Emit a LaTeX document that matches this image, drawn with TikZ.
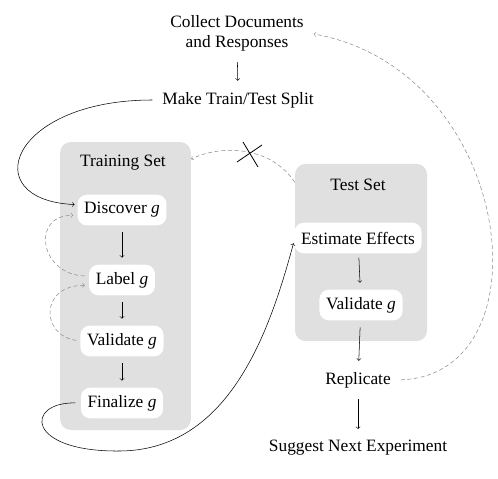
\documentclass[tikz,border=0pt]{standalone}
\usepackage{fontspec}
\setmainfont{Liberation Serif}
\usetikzlibrary{positioning}
\usetikzlibrary{arrows}
\tikzset{x=0.75pt, y=-0.75pt,
panel/.style={ % grey set boxes
fill=black!12, rounded corners=8pt, inner sep=0pt},
stepbox/.style={ % white step boxes
fill=white, rounded corners=7pt, inner xsep=5pt, minimum height=23pt},
flow/.style={ % main flow
draw, ->, thin, shorten <=5pt, shorten >=5pt},
loop/.style={ % feedback loops
draw, ->, densely dashed, black!45, thin}}

\begin{document}
\begin{tikzpicture}[font=\fontsize{13}{15}\selectfont]
	\useasboundingbox (0,0) rectangle (498,478);
	\node[panel, minimum width=98pt, minimum height=216pt] (train) at (125.5,286) {};
	\node[panel, minimum width=99pt, minimum height=133pt] (test) at (361,252.5) {};
	\node[align=center] (collect) at (237,33) {Collect Documents\\and Responses};
	\node (split) at (238,100) {Make Train/Test Split};
	\node (traintitle) at (123,163) {Training Set};
	\node[stepbox] (discover) at (122,210) {Discover \textit{g}};
	\node[stepbox] (label) at (122,280) {Label \textit{g}};
	\node[stepbox] (trainval) at (122,341) {Validate \textit{g}};
	\node[stepbox] (finalize) at (122,403) {Finalize \textit{g}};
	\node (testtitle) at (358,185) {Test Set};
	\node[stepbox] (estimate) at (358,238) {Estimate Effects};
	\node[stepbox] (testval) at (361,305) {Validate \textit{g}};
	\node (replicate) at (358,380) {Replicate};
	\node (suggest) at (358,448) {Suggest Next Experiment};
	\coordinate (cut) at (249,155);
	\draw[flow] (collect) -- (split);
	\draw[flow] (discover) -- (label);
	\draw[flow] (label) -- (trainval);
	\draw[flow] (trainval) -- (finalize);
	\draw[flow, shorten <=3pt] (estimate) -- (testval);
	\draw[flow] (testval) -- (replicate);
	\draw[flow] (replicate) -- (suggest);
	\draw[->, thin, shorten <=4pt, shorten >=2pt] (split.west) .. controls (10,100) and (-25,200) .. ([yshift=4pt]discover.west);
	\draw[->, thin, shorten <=4pt, shorten >=2pt] (finalize.west) .. controls (25,402) and (25,452) .. (120,451) .. controls (230,450) and (270,330) .. ([yshift=-2pt]estimate.west);
	\draw[loop, shorten <=3pt, shorten >=3pt] ([yshift=3pt]label.west) .. controls (40,275) and (30,215) .. ([yshift=-4pt]discover.west);
	\draw[loop, shorten <=3pt, shorten >=3pt] (trainval.west) .. controls (40,335) and (40,285) .. ([yshift=-4pt]label.west);
	\draw[loop] ([yshift=-14pt]test.north west) .. controls (270,145) and (220,145) .. ([yshift=-13pt]train.north east);
	\draw[loop, shorten <=4pt, shorten >=4pt] (replicate.east) .. controls (550,375) and (515,70) .. (collect.east);
	\draw[semithick] (cut) ++(-12,7) -- ++(25,-17);
	\draw[semithick] (cut) ++(-6,-13) -- ++(15,25);
\end{tikzpicture}
\end{document}
